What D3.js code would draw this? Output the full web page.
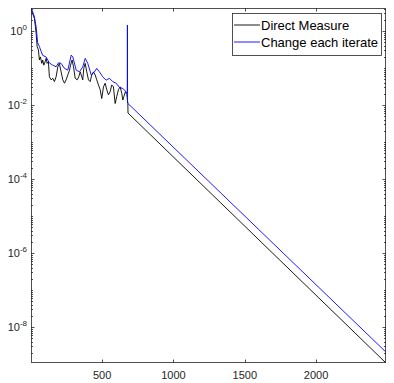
<!DOCTYPE html>
<html>
<head>
<meta charset="utf-8">
<script src="https://cdn.jsdelivr.net/npm/d3@7"></script>
<style>
  body { margin: 0; background: #fff; }
  svg { display: block; font-family: "Liberation Sans", Arial, sans-serif; }
</style>
</head>
<body>
<div id="chart"></div>
<script>
// iterations / values
const directIter = [1, 25, 37, 44, 53, 60, 67, 77, 83, 91, 100, 107, 114, 123, 130, 142, 154, 165, 177, 189,
  200, 212, 224, 236, 247, 259, 271, 278, 289, 299, 311, 325, 336, 346, 357, 364, 371, 381, 392, 404,
  416, 427, 439, 451, 462, 474, 486, 497, 509, 521, 532, 544, 556, 567, 579, 591, 602, 614, 626, 637,
  645, 652, 663, 673, 680, 681, 2490];
const directVal = [3.86, 2.2, 0.87, 0.38, 0.31, 0.165, 0.2, 0.134, 0.165, 0.12, 0.148, 0.183, 0.134, 0.148, 0.058, 0.048, 0.053, 0.043, 0.058, 0.108,
  0.134, 0.079, 0.048, 0.039, 0.048, 0.065, 0.088, 0.12, 0.165, 0.108, 0.053, 0.048, 0.058, 0.079, 0.058, 0.048, 0.098, 0.134, 0.079, 0.048,
  0.043, 0.065, 0.079, 0.065, 0.048, 0.035, 0.026, 0.015, 0.031, 0.039, 0.026, 0.019, 0.023, 0.035, 0.031, 0.011, 0.017, 0.026, 0.031, 0.021,
  0.0137, 0.017, 0.023, 0.019, 0.011, 0.0061, 1.07e-9];

const changeIter = [1, 13, 25, 37, 48, 60, 72, 83, 107, 130, 154, 177, 194, 212, 236, 259, 283, 294, 318, 341,
  364, 381, 399, 423, 446, 462, 481, 504, 528, 551, 574, 598, 621, 645, 668, 675, 676, 677, 678, 2490];
const changeVal = [4.2, 3.3, 2.4, 1.3, 0.48, 0.38, 0.28, 0.22, 0.2, 0.137, 0.12, 0.108, 0.139, 0.134, 0.098, 0.088, 0.224, 0.2, 0.088, 0.079,
  0.108, 0.183, 0.134, 0.065, 0.079, 0.098, 0.079, 0.058, 0.047, 0.053, 0.043, 0.039, 0.03, 0.028, 0.023, 0.021, 0.021, 1.45, 0.0113, 2.1e-9];

const xTicks = [500, 1000, 1500, 2000];
const yTickExp = [0, -2, -4, -6, -8];
const seriesNames = ["Direct Measure", "Change each iterate"];
const seriesColors = ["#000000", "#0000ff"];

const W = 394, H = 383;
const margin = { top: 8, right: 8, bottom: 20, left: 31 };
const iw = W - margin.left - margin.right;
const ih = H - margin.top - margin.bottom;
const axisColor = "#262626";

const svg = d3.select("#chart").append("svg")
  .attr("width", W).attr("height", H);

const x = d3.scaleLinear().domain([1, 2490]).range([0, iw]);
const y = d3.scaleLog().domain([1.07e-9, 4.2]).range([ih, 0]);

const g = svg.append("g").attr("transform", `translate(${margin.left},${margin.top})`);

// lines
const line = d3.line().x(d => x(d[0])).y(d => y(d[1]));
const series = [
  d3.zip(directIter, directVal),
  d3.zip(changeIter, changeVal)
];
g.append("defs").append("clipPath").attr("id", "clip")
  .append("rect").attr("width", iw).attr("height", ih);
series.forEach((s, i) => {
  g.append("path")
    .attr("d", line(s))
    .attr("fill", "none")
    .attr("stroke", seriesColors[i])
    .attr("stroke-width", 0.9)
    .attr("clip-path", "url(#clip)");
});

// box
g.append("rect")
  .attr("x", 0.5).attr("y", 0.5)
  .attr("width", iw - 1).attr("height", ih - 1)
  .attr("fill", "none").attr("stroke", axisColor).attr("stroke-width", 0.8);

// x ticks bottom and top
const tk = g.append("g").attr("stroke", axisColor).attr("stroke-width", 0.8);
xTicks.forEach(t => {
  const px = Math.round(x(t)) + 0.5;
  tk.append("line").attr("x1", px).attr("x2", px).attr("y1", ih).attr("y2", ih - 3.5);
  tk.append("line").attr("x1", px).attr("x2", px).attr("y1", 0).attr("y2", 3.5);
});
g.selectAll(".xlab").data(xTicks).join("text")
  .attr("x", d => x(d)).attr("y", ih + 16)
  .attr("text-anchor", "middle")
  .attr("font-size", 11).attr("fill", axisColor)
  .text(d => d);

// y ticks: major every two decades, minor otherwise
const [lo, hi] = y.domain();
for (let e = -9; e <= 0; e++) {
  for (let m = 1; m <= 9; m++) {
    const v = m * Math.pow(10, e);
    if (v < lo || v > hi) continue;
    const py = Math.round(y(v)) + 0.5;
    const major = m === 1 && yTickExp.includes(e);
    const len = major ? 3.5 : 2;
    tk.append("line").attr("x1", 0).attr("x2", len).attr("y1", py).attr("y2", py);
    tk.append("line").attr("x1", iw).attr("x2", iw - len).attr("y1", py).attr("y2", py);
  }
}
const ylab = g.selectAll(".ylab").data(yTickExp).join("text")
  .attr("x", -4).attr("y", d => y(Math.pow(10, d)) + 4)
  .attr("text-anchor", "end")
  .attr("font-size", 11).attr("fill", axisColor);
ylab.append("tspan").text("10");
ylab.append("tspan").attr("dy", -5).attr("font-size", 8).text(d => d);

// legend
const lg = g.append("g").attr("transform", "translate(201,5)");
lg.append("rect").attr("x", 0.5).attr("y", 0.5).attr("width", 149).attr("height", 42)
  .attr("fill", "#fff").attr("stroke", axisColor).attr("stroke-width", 0.8);
seriesNames.forEach((name, i) => {
  const cy = 12 + i * 17;
  lg.append("line").attr("x1", 2).attr("x2", 28).attr("y1", cy).attr("y2", cy)
    .attr("stroke", seriesColors[i]).attr("stroke-width", 0.9);
  lg.append("text").attr("x", 29).attr("y", cy + 4.5)
    .attr("font-size", 13).attr("fill", "#000").text(name);
});
</script>
</body>
</html>
